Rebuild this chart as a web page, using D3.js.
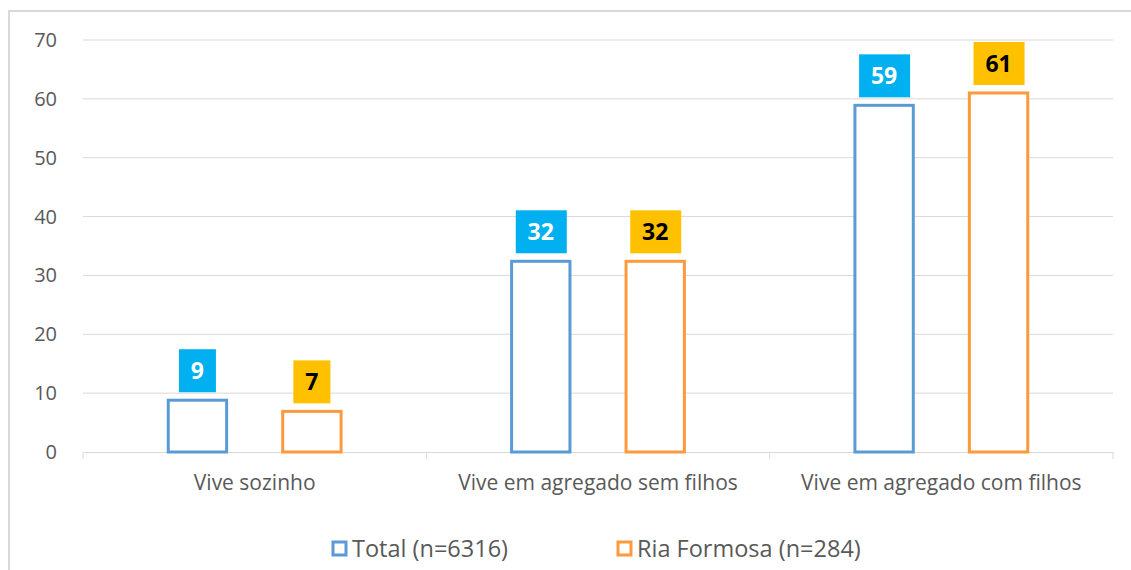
<!DOCTYPE html>
<html><head><meta charset="utf-8">
<script src="https://cdn.jsdelivr.net/npm/d3@7"></script>
<style>body{margin:0;background:#fff;}svg{display:block;font-family:"Open Sans","Noto Sans",sans-serif;}</style>
</head><body><svg id="c" width="1131" height="570"></svg>
<script>
const categories = ["Vive sozinho", "Vive em agregado sem filhos", "Vive em agregado com filhos"];
const seriesNames = ["Total (n=6316)", "Ria Formosa (n=284)"];
const totalValues = [8.8, 32.4, 58.9];
const riaValues = [6.9, 32.4, 61.0];
const yTicks = [0, 10, 20, 30, 40, 50, 60, 70];

const strokeColors = ["#5B9BD5", "#FF9A3C"];
const labelFill = ["#00B0F0", "#FFC000"];
const labelText = ["#ffffff", "#000000"];

const svg = d3.select("#c");
// outer frame
svg.append("path").attr("d", "M9,570 V11 H1131").attr("fill", "none").attr("stroke", "#D9D9D9").attr("stroke-width", 2);

const mLeft = 83, mRight = 1113, mTop = 40, mBottom = 452;
const x = d3.scaleBand().domain(categories).range([mLeft, mRight]).paddingInner(0).paddingOuter(0);
const y = d3.scaleLinear().domain([0, 70]).range([mBottom, mTop]);
const xs = d3.scaleBand().domain([0, 1]).range([0, x.bandwidth()]).paddingInner(0.49).paddingOuter(0.745);

// gridlines
svg.append("g").selectAll("line").data(yTicks.filter(d => d > 0)).join("line")
  .attr("x1", mLeft).attr("x2", mRight).attr("y1", d => y(d)).attr("y2", d => y(d))
  .attr("stroke", "#D9D9D9").attr("stroke-width", 1);

// y labels
svg.append("g").selectAll("text").data(yTicks).join("text")
  .attr("x", 57).attr("y", d => y(d)).attr("dy", "0.35em").attr("text-anchor", "end")
  .attr("fill", "#595959").attr("font-size", 20).text(d => d);

// x axis
const xAxis = d3.axisBottom(x).tickSize(0).tickSizeOuter(0);
const gx = svg.append("g").attr("transform", `translate(0,${mBottom})`).call(xAxis);
gx.select(".domain").attr("stroke", "#D9D9D9");
gx.selectAll(".tick text").attr("fill", "#595959").attr("font-size", 21).attr("dy", "0").attr("y", 38)
  .style("font-family", '"Open Sans","Noto Sans",sans-serif');
// category separators
const seps = [mLeft, ...categories.map(c => x(c) + x.bandwidth())];
svg.append("g").selectAll("line").data(seps).join("line")
  .attr("x1", d => d).attr("x2", d => d).attr("y1", mBottom).attr("y2", mBottom + 7)
  .attr("stroke", "#D9D9D9");

const data = [];
categories.forEach((c, i) => {
  data.push({cat: c, s: 0, v: totalValues[i]});
  data.push({cat: c, s: 1, v: riaValues[i]});
});

const g = svg.append("g");
g.selectAll("rect.bar").data(data).join("rect").attr("class", "bar")
  .attr("x", d => x(d.cat) + xs(d.s)).attr("width", xs.bandwidth())
  .attr("y", d => y(d.v)).attr("height", d => mBottom - y(d.v))
  .attr("fill", "#fff").attr("stroke", d => strokeColors[d.s]).attr("stroke-width", 3);

// labels
const fmt = d3.format(".0f");
const lbl = g.selectAll("g.lbl").data(data).join("g").attr("class", "lbl")
  .attr("transform", d => `translate(${x(d.cat) + xs(d.s) + xs.bandwidth() / 2},${y(d.v) - 8})`);
lbl.append("rect")
  .attr("x", d => fmt(d.v).length > 1 ? -25 : -18.5)
  .attr("width", d => fmt(d.v).length > 1 ? 51 : 37)
  .attr("y", -43).attr("height", 43)
  .attr("fill", d => labelFill[d.s]);
lbl.append("text").attr("y", -21.5).attr("dy", "0.36em").attr("text-anchor", "middle")
  .attr("font-weight", "bold").attr("font-size", 23).attr("fill", d => labelText[d.s])
  .text(d => fmt(d.v));

// legend
const legend = svg.append("g").attr("transform", "translate(0,549)");
const lx = [333, 618];
seriesNames.forEach((n, i) => {
  legend.append("rect").attr("x", lx[i]).attr("y", -7).attr("width", 13).attr("height", 13)
    .attr("fill", "#fff").attr("stroke", strokeColors[i]).attr("stroke-width", 3);
  legend.append("text").attr("x", lx[i] + 19).attr("y", 0).attr("dy", "0.35em")
    .attr("fill", "#595959").attr("font-size", 23.5).text(n);
});
</script></body></html>
